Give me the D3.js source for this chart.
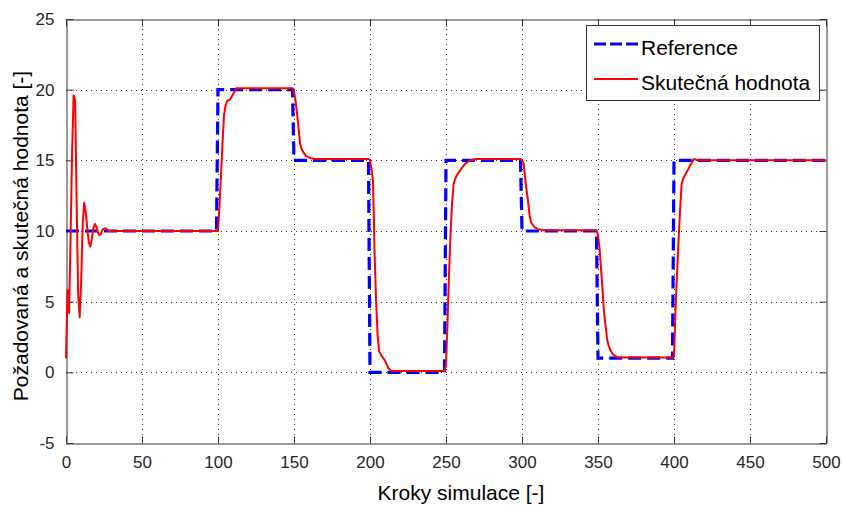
<!DOCTYPE html>
<html>
<head>
<meta charset="utf-8">
<script src="https://cdn.jsdelivr.net/npm/d3@7/dist/d3.min.js"></script>
<style>
html,body{margin:0;padding:0;background:#fff;}
svg{display:block;font-family:"Liberation Sans",Arial,Helvetica,sans-serif;}
</style>
</head>
<body>
<svg id="chart" width="843" height="507"></svg>
<script>
// ---- data ----
const xTicks = [0, 50, 100, 150, 200, 250, 300, 350, 400, 450, 500];
const yTicks = [-5, 0, 5, 10, 15, 20, 25];

// reference (setpoint) samples
const refK = [0, 99, 100, 149, 150, 199, 200, 249, 250, 299, 300, 349, 350, 399, 400, 500];
const refV = [10, 10, 20, 20, 15, 15, 0, 0, 15, 15, 10, 10, 1, 1, 15, 15];

const actK = [0, 1, 2, 3, 4, 5, 6, 7, 8, 9, 10, 11, 12, 13, 14, 15, 16, 17, 18, 19, 20, 21, 22, 23, 24, 26, 28,
  100, 101, 102, 103, 104, 105, 106, 108, 110, 112, 149,
  150, 151, 152, 153, 154, 155, 156, 158, 161, 164, 199,
  200, 201, 202, 203, 204, 205, 206, 208, 210, 212, 214, 249,
  250, 251, 252, 253, 254, 255, 256, 258, 260, 263, 266, 270, 299,
  300, 301, 302, 303, 304, 305, 306, 308, 310, 314, 349,
  350, 351, 352, 353, 354, 355, 356, 357, 358, 360, 363, 399,
  400, 401, 402, 403, 404, 405, 406, 408, 410, 412, 413, 416, 500];
const actV = [1.0, 5.8, 4.2, 9.5, 15.5, 19.6, 19.2, 12.0, 5.5, 3.9, 6.5, 10.5, 12.0, 11.3, 10.2, 9.2, 8.9, 9.4, 10.2, 10.5, 10.3, 9.9, 9.7, 9.8, 10.1, 10.2, 10.0,
  10.0, 11.8, 14.0, 16.3, 18.2, 18.9, 19.2, 19.3, 19.7, 20.1, 20.1,
  19.9, 19.2, 18.3, 17.3, 16.2, 15.8, 15.6, 15.3, 15.15, 15.1, 15.1,
  15.0, 14.4, 13.5, 8.5, 5.1, 2.6, 1.5, 1.1, 0.8, 0.3, 0.1, 0.1,
  0.5, 3.5, 7.0, 9.8, 12.0, 13.3, 13.7, 14.1, 14.4, 14.8, 15.0, 15.1, 15.1,
  15.0, 14.8, 13.8, 12.9, 12.1, 11.1, 10.6, 10.3, 10.15, 10.05, 10.05,
  9.7, 8.8, 7.3, 5.8, 4.2, 3.3, 2.3, 1.9, 1.6, 1.25, 1.05, 1.05,
  1.1, 4.5, 7.0, 9.3, 11.5, 13.3, 13.7, 14.1, 14.5, 14.9, 15.1, 15.0, 15.0];

const seriesNames = ["Reference", "Skutečná hodnota"];
const xLabel = "Kroky simulace [-]";
const yLabel = "Požadovaná a skutečná hodnota [-]";

// ---- layout ----
const L = 66, T = 19, R = 826, B = 443;
const svg = d3.select("#chart");
const x = d3.scaleLinear().domain([0, 500]).range([L, R]);
const y = d3.scaleLinear().domain([-5, 25]).range([B, T]);
const fmt = d => String(d);

// grid
const grid = svg.append("g").attr("stroke", "#333").attr("stroke-width", 1)
  .attr("stroke-dasharray", "1,4").attr("fill", "none");
xTicks.slice(1, -1).forEach(t => grid.append("line")
  .attr("x1", Math.round(x(t)) + 0.5).attr("x2", Math.round(x(t)) + 0.5)
  .attr("y1", T).attr("y2", B));
yTicks.slice(1, -1).forEach(t => grid.append("line")
  .attr("y1", Math.round(y(t)) + 0.5).attr("y2", Math.round(y(t)) + 0.5)
  .attr("x1", L).attr("x2", R));

// axes (ticks inward, box)
const axStyle = g => {
  g.select(".domain").attr("stroke", "#333");
  g.selectAll(".tick line").attr("stroke", "#333");
  g.selectAll(".tick text").attr("fill", "#262626").style("font-size", "17px")
    .style("font-family", '"Liberation Sans",Arial,sans-serif');
};
svg.append("g").attr("transform", `translate(0,${B + 0.5})`)
  .call(d3.axisBottom(x).tickValues(xTicks).tickFormat(fmt).tickSize(-7).tickSizeOuter(0).tickPadding(12))
  .call(axStyle);
svg.append("g").attr("transform", `translate(0,${T + 0.5})`)
  .call(d3.axisTop(x).tickValues(xTicks).tickSize(-7).tickSizeOuter(0).tickFormat(""))
  .call(axStyle);
svg.append("g").attr("transform", `translate(${L + 0.5},0)`)
  .call(d3.axisLeft(y).tickValues(yTicks).tickFormat(fmt).tickSize(-7).tickSizeOuter(0).tickPadding(12))
  .call(axStyle);
svg.append("g").attr("transform", `translate(${R + 0.5},0)`)
  .call(d3.axisRight(y).tickValues(yTicks).tickSize(-7).tickSizeOuter(0).tickFormat(""))
  .call(axStyle);

// lines
const line = d3.line().x(d => x(d[0])).y(d => y(d[1]));
const refData = refK.map((k, i) => [k, refV[i]]);
const actData = actK.map((k, i) => [k, actV[i]]);

svg.append("path").datum(refData).attr("d", line)
  .attr("fill", "none").attr("stroke", "#0000ff").attr("stroke-width", 3.2)
  .attr("stroke-dasharray", "13,6");
svg.append("path").datum(actData).attr("d", line)
  .attr("fill", "none").attr("stroke", "#ff0000").attr("stroke-width", 2)
  .attr("stroke-linejoin", "round");

// legend
const lg = svg.append("g");
lg.append("rect").attr("x", 586.5).attr("y", 25.5).attr("width", 233).attr("height", 75)
  .attr("fill", "#fff").attr("stroke", "#333").attr("stroke-width", 1);
lg.append("line").attr("x1", 594).attr("x2", 638).attr("y1", 44).attr("y2", 44)
  .attr("stroke", "#0000ff").attr("stroke-width", 3.2).attr("stroke-dasharray", "12,4");
lg.append("line").attr("x1", 594).attr("x2", 638).attr("y1", 79).attr("y2", 79)
  .attr("stroke", "#ff0000").attr("stroke-width", 2);
lg.append("text").attr("x", 641).attr("y", 55).text(seriesNames[0])
  .style("font-size", "21px").attr("fill", "#000");
lg.append("text").attr("x", 641).attr("y", 90).text(seriesNames[1])
  .style("font-size", "21px").attr("fill", "#000");

// axis labels
svg.append("text").attr("x", 461).attr("y", 500).attr("text-anchor", "middle")
  .style("font-size", "21px").attr("fill", "#000").text(xLabel);
svg.append("text").attr("transform", "translate(28,236) rotate(-90)")
  .attr("text-anchor", "middle").style("font-size", "21px").attr("fill", "#000").text(yLabel);
</script>
</body>
</html>
